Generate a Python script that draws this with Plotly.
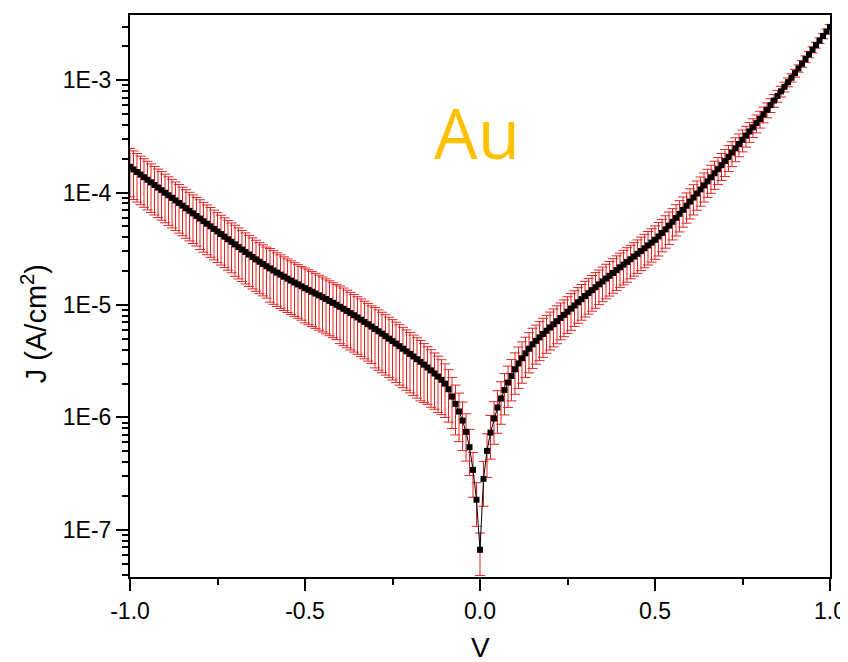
import plotly.graph_objects as go

# Voltage grid (V), 0.01 V steps from -1.00 to 1.00
V = [round(-1 + 0.01 * i, 2) for i in range(201)]

# log10 of current density J (A/cm^2), one per voltage
J_exponent = [
    -3.771, -3.794, -3.817, -3.840, -3.863, -3.886, -3.909, -3.932, -3.955, -3.978,
    -4.001, -4.024, -4.047, -4.070, -4.093, -4.116, -4.139, -4.162, -4.185, -4.208,
    -4.231, -4.254, -4.277, -4.300, -4.323, -4.346, -4.369, -4.392, -4.415, -4.438,
    -4.461, -4.484, -4.507, -4.529, -4.551, -4.573, -4.594, -4.615, -4.635, -4.655,
    -4.674, -4.693, -4.712, -4.730, -4.748, -4.766, -4.783, -4.800, -4.817, -4.834,
    -4.850, -4.866, -4.882, -4.898, -4.914, -4.930, -4.947, -4.964, -4.981, -4.998,
    -5.016, -5.034, -5.053, -5.072, -5.091, -5.111, -5.131, -5.151, -5.171, -5.192,
    -5.213, -5.234, -5.255, -5.277, -5.299, -5.321, -5.343, -5.366, -5.389, -5.412,
    -5.435, -5.458, -5.482, -5.506, -5.531, -5.556, -5.582, -5.609, -5.637, -5.666,
    -5.700, -5.749, -5.815, -5.880, -5.948, -6.028, -6.129, -6.265, -6.467, -6.733,
    -7.178,
    -6.547, -6.298, -6.135, -6.010, -5.912, -5.832, -5.756, -5.690, -5.631, -5.572,
    -5.520, -5.474, -5.430, -5.389, -5.350, -5.319, -5.288, -5.258, -5.229, -5.200,
    -5.172, -5.144, -5.116, -5.088, -5.060, -5.032, -5.004, -4.976, -4.948, -4.920,
    -4.894, -4.868, -4.842, -4.816, -4.790, -4.765, -4.740, -4.715, -4.690, -4.665,
    -4.641, -4.617, -4.593, -4.569, -4.545, -4.520, -4.495, -4.470, -4.445, -4.420,
    -4.390, -4.359, -4.327, -4.294, -4.260, -4.225, -4.189, -4.153, -4.117, -4.080,
    -4.044, -4.008, -3.972, -3.936, -3.900, -3.864, -3.828, -3.792, -3.756, -3.720,
    -3.682, -3.644, -3.606, -3.568, -3.530, -3.493, -3.456, -3.419, -3.382, -3.345,
    -3.304, -3.263, -3.222, -3.181, -3.140, -3.099, -3.059, -3.018, -2.978, -2.937,
    -2.895, -2.854, -2.812, -2.771, -2.729, -2.688, -2.648, -2.607, -2.567, -2.526,
]

# Relative error of J (error bar half-length / J)
J_rel_err = [
    0.46, 0.46, 0.46, 0.46, 0.46, 0.46, 0.46, 0.46, 0.46, 0.46,
    0.46, 0.46, 0.46, 0.46, 0.46, 0.46, 0.46, 0.46, 0.46, 0.46,
    0.47, 0.47, 0.47, 0.47, 0.47, 0.47, 0.47, 0.47, 0.47, 0.47,
    0.48, 0.48, 0.48, 0.48, 0.48, 0.48, 0.48, 0.48, 0.48, 0.48,
    0.50, 0.50, 0.50, 0.50, 0.50, 0.50, 0.50, 0.50, 0.50, 0.50,
    0.51, 0.51, 0.51, 0.51, 0.51, 0.51, 0.51, 0.51, 0.51, 0.51,
    0.53, 0.53, 0.53, 0.53, 0.53, 0.53, 0.53, 0.53, 0.53, 0.53,
    0.55, 0.55, 0.55, 0.55, 0.55, 0.55, 0.55, 0.55, 0.55, 0.55,
    0.55, 0.55, 0.55, 0.55, 0.54, 0.53, 0.53, 0.52, 0.52, 0.51,
    0.50, 0.49, 0.48, 0.47, 0.46, 0.46, 0.45, 0.44, 0.43, 0.42,
    0.41,
    0.43, 0.42, 0.42, 0.41, 0.41, 0.41, 0.40, 0.40, 0.40, 0.40,
    0.40, 0.40, 0.39, 0.39, 0.39, 0.38, 0.38, 0.38, 0.37, 0.37,
    0.37, 0.37, 0.36, 0.36, 0.36, 0.36, 0.35, 0.35, 0.35, 0.35,
    0.35, 0.35, 0.35, 0.34, 0.34, 0.34, 0.34, 0.34, 0.34, 0.34,
    0.34, 0.34, 0.33, 0.33, 0.33, 0.33, 0.33, 0.33, 0.33, 0.33,
    0.33, 0.32, 0.32, 0.32, 0.31, 0.31, 0.31, 0.30, 0.30, 0.30,
    0.30, 0.29, 0.29, 0.29, 0.28, 0.28, 0.28, 0.27, 0.27, 0.27,
    0.26, 0.25, 0.24, 0.23, 0.22, 0.21, 0.20, 0.19, 0.18, 0.17,
    0.16, 0.15, 0.14, 0.13, 0.12, 0.11, 0.10, 0.09, 0.085, 0.08,
    0.075, 0.07, 0.068, 0.065, 0.062, 0.06, 0.058, 0.055, 0.052, 0.05,
]

x_tick_vals = [-1.0, -0.5, 0.0, 0.5, 1.0]
x_tick_text = ["-1.0", "-0.5", "0.0", "0.5", "1.0"]
y_tick_vals = [1e-7, 1e-6, 1e-5, 1e-4, 1e-3]
y_tick_text = ["1E-7", "1E-6", "1E-5", "1E-4", "1E-3"]
x_title = "V"
y_title = "J (A/cm<sup>2</sup>)"
label_text = "Au"

J = [10 ** e for e in J_exponent]
J_err = [j * r for j, r in zip(J, J_rel_err)]

y_minor = []
for dec in range(-8, -2):
    for m in range(2, 10):
        y_minor.append(m * 10 ** dec)

fig = go.Figure()
fig.add_trace(go.Scatter(
    x=V, y=J, mode="lines+markers",
    line=dict(color="black", width=1),
    marker=dict(symbol="square", size=6, color="black"),
    error_y=dict(type="data", array=J_err, visible=True,
                 color="rgb(228,35,35)", thickness=1, width=5),
    showlegend=False,
))

font_family = "Liberation Sans, Arial, sans-serif"

# The page body adds an 8 px margin, so the figure is 8 px smaller on each side
fig.update_layout(
    template="none",
    width=840, height=654,
    margin=dict(l=122, r=18, t=7, b=85, autoexpand=False),
    paper_bgcolor="white", plot_bgcolor="white",
    font=dict(family=font_family, color="black", size=23),
    xaxis=dict(
        range=[-1, 1], showgrid=False, zeroline=False, automargin=False,
        showline=True, linecolor="black", linewidth=2, mirror=True,
        ticks="outside", ticklen=12, tickwidth=2, tickcolor="black",
        tickmode="array", tickvals=x_tick_vals, ticktext=x_tick_text,
        tickfont=dict(size=23),
        minor=dict(ticks="outside", ticklen=6, tickwidth=2, tickcolor="black",
                   tickvals=[-0.75, -0.25, 0.25, 0.75], showgrid=False),
    ),
    yaxis=dict(
        type="log", range=[-7.42, -2.42], showgrid=False, zeroline=False,
        automargin=False,
        showline=True, linecolor="black", linewidth=2, mirror=True,
        ticks="outside", ticklen=12, tickwidth=2, tickcolor="black",
        tickmode="array", tickvals=y_tick_vals, ticktext=y_tick_text,
        tickfont=dict(size=23),
        minor=dict(ticks="outside", ticklen=6, tickwidth=1.5, tickcolor="black",
                   tickvals=y_minor, showgrid=False),
    ),
    annotations=[
        dict(
            text=label_text, x=-0.01, y=-3.46, xref="x", yref="y",
            showarrow=False, xanchor="center", yanchor="middle",
            font=dict(family="Open Sans, sans-serif", size=69, color="#FFC000"),
        ),
        dict(
            text=y_title, x=-0.137, y=0.45, xref="paper", yref="paper",
            showarrow=False, xanchor="center", yanchor="middle", textangle=-90,
            font=dict(size=29, color="black"),
        ),
        dict(
            text=x_title, x=0.5, y=-0.125, xref="paper", yref="paper",
            showarrow=False, xanchor="center", yanchor="middle",
            font=dict(size=28, color="black"),
        ),
    ],
)

fig.write_html("out.html")
